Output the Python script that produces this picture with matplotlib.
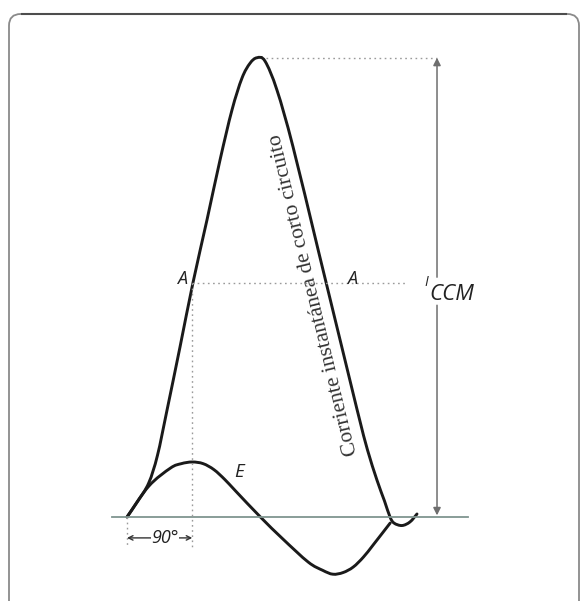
import numpy as np
import matplotlib.pyplot as plt
from matplotlib.path import Path
from matplotlib.patches import PathPatch, FancyBboxPatch

# eje x en grados eléctricos, eje y en múltiplos de la cresta de E
e_deg = [0, 30, 60, 75, 90, 105, 120, 135, 150, 184, 215, 250, 270, 284, 298, 312, 326, 340, 363]
e_val = [0, 0.56, 0.89, 0.97, 1.0, 0.97, 0.86, 0.68, 0.47, 0, -0.40, -0.82, -0.97, -1.04, -1.01,
         -0.91, -0.73, -0.50, -0.11]

i_deg = [0, 15, 30, 42, 55, 73.1, 91.0, 110.3, 128.3, 144.8, 158.6, 169.7, 179.3,
         190.3, 206.9, 229, 264.7, 307.4, 321, 331.7, 344.8, 355.2, 362.8,
         368.3, 379.3, 390.3, 400]
i_val = [0, 0.29, 0.62, 1.12, 1.93, 3.09, 4.26, 5.40, 6.49, 7.40, 7.98, 8.25, 8.35,
         8.29, 7.76, 6.73, 4.80, 2.49, 1.76, 1.22, 0.67, 0.29, 0,
         -0.11, -0.155, -0.09, 0.055]

i_ccm = 8.35       # cresta de la corriente de cortocircuito
a_level = 4.25     # nivel de los puntos A
x_ccm = 427.6      # posición de la cota I_CCM

PX_DEG, PX_UNIT = 0.725, 55.0


def smooth(xs, ys):
    # curva suave (Catmull-Rom -> Bezier) que pasa por los puntos dados
    pts = np.column_stack([xs, ys]).astype(float)
    ext = np.vstack([pts[0], pts, pts[-1]])
    verts, codes = [pts[0]], [Path.MOVETO]
    for k in range(1, len(ext) - 2):
        p0, p1, p2, p3 = ext[k - 1], ext[k], ext[k + 1], ext[k + 2]
        verts += [p1 + (p2 - p0) / 6, p2 - (p3 - p1) / 6, p2]
        codes += [Path.CURVE4] * 3
    return Path(verts, codes)


fig = plt.figure(figsize=(5.82, 6.01), dpi=100)
ax = fig.add_axes([0, 0, 1, 1])
ax.set_xlim(-127 / PX_DEG, 455 / PX_DEG)
ax.set_ylim(-84 / PX_UNIT, 517 / PX_UNIT)
ax.axis("off")

# marco redondeado
frame = FancyBboxPatch((9 / 582, -0.05), 570 / 582, 1.05 - 14 / 601,
                       boxstyle="round,pad=0,rounding_size=0.02", mutation_aspect=582 / 601,
                       transform=ax.transAxes, fill=False, ec="#8a8a8a", lw=1.3)
ax.add_patch(frame)
ax.plot([22 / 582, 566 / 582], [1 - 14 / 601] * 2, transform=ax.transAxes, color="#4d4d4d", lw=1.5)

# eje de tiempo
ax.plot([-21, 470], [0, 0], color="#7f9590", lw=1.3)

# líneas auxiliares punteadas
dots = dict(color="#9a9a9a", lw=1.0, ls=(0, (1.2, 2.5)))
ax.plot([89, 386], [a_level, a_level], **dots)
ax.plot([192, x_ccm], [i_ccm, i_ccm], **dots)
ax.plot([0, 0], [0, -0.55], **dots)
ax.plot([90, 90], [a_level, -0.55], **dots)

# curvas
ax.add_patch(PathPatch(smooth(e_deg, e_val), fill=False, ec="#1a1a1a", lw=2.1, capstyle="round"))
ax.add_patch(PathPatch(smooth(i_deg, i_val), fill=False, ec="#1a1a1a", lw=2.1, capstyle="round"))

# cota I_CCM
arr = dict(arrowstyle="-|>", color="#6e6e6e", lw=1.1, mutation_scale=11, shrinkA=0, shrinkB=0)
ax.annotate("", xy=(x_ccm, i_ccm), xytext=(x_ccm, 4.36), arrowprops=arr)
ax.annotate("", xy=(x_ccm, 0.03), xytext=(x_ccm, 3.85), arrowprops=arr)

# cota de 90°
ax.annotate("", xy=(0, -0.38), xytext=(90, -0.38),
            arrowprops=dict(arrowstyle="<->", color="#333", lw=1.0, mutation_scale=8,
                            shrinkA=0, shrinkB=0))

lab = dict(family="Open Sans", style="italic", color="#222")
ax.text(52, -0.38, "90°", ha="center", va="center", fontsize=13,
        bbox=dict(fc="white", ec="none", pad=0.3), **lab)
ax.text(75.4, 4.33, "A", ha="center", va="center", fontsize=13, **lab)
ax.text(310, 4.33, "A", ha="center", va="center", fontsize=13, **lab)
ax.text(154.5, 0.82, "E", ha="center", va="center", fontsize=13.5, **lab)
ax.text(412.4, 4.27, "I", ha="center", va="center", fontsize=10, **lab)
ax.text(417, 4.05, "CCM", ha="left", va="center", fontsize=16, **lab)

ax.text(258, 4.05, "Corriente instantánea de corto circuito", family="Liberation Serif",
        fontsize=15.5, color="#333", rotation=103.5, rotation_mode="anchor",
        ha="center", va="center")

fig.savefig("out.png", dpi=100, facecolor="white")
